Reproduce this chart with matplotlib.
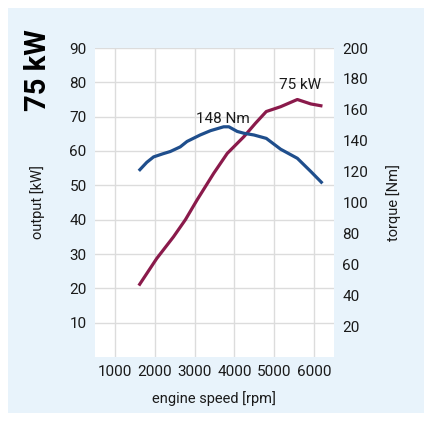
import matplotlib.pyplot as plt
from matplotlib.patches import Rectangle

# engine curves
rpm_torque = [1600, 1800, 1970, 2200, 2390, 2640, 2810, 3140, 3400, 3730, 3860, 4070, 4240, 4490, 4800, 5160, 5580, 5920, 6210]
torque_nm = [120.5, 126, 129.5, 131.5, 133, 136, 139.5, 143.7, 146.5, 149, 149, 146, 144.8, 143.7, 141.5, 134.5, 128.6, 120, 112.4]

rpm_power = [1600, 2050, 2470, 2770, 3060, 3480, 3820, 4240, 4530, 4800, 5160, 5580, 5920, 6210]
power_kw = [20.8, 28.7, 35, 40, 45.7, 53.5, 59.3, 64.2, 68.1, 71.5, 72.9, 75.0, 73.7, 73.1]

x_ticks = [1000, 2000, 3000, 4000, 5000, 6000]
kw_ticks = [10, 20, 30, 40, 50, 60, 70, 80, 90]
nm_ticks = [20, 40, 60, 80, 100, 120, 140, 160, 180, 200]

W, H = 432, 421
plt.rcParams['font.family'] = ['Roboto', 'DejaVu Sans']

fig = plt.figure(figsize=(W / 100, H / 100), dpi=100)
fig.patches.append(Rectangle((8 / W, 8 / H), 416 / W, 405 / H, transform=fig.transFigure,
                             facecolor='#e8f3fb', edgecolor='none', zorder=-10))

ax = fig.add_axes([95 / W, (H - 357) / H, 239 / W, 309 / H])
ax.set_facecolor('white')
ax.set_xlim(500, 6500)
ax.set_ylim(0, 90)
ax.set_xticks(x_ticks)
ax.set_yticks(kw_ticks)
ax.grid(True, color='#dcdcdc', linewidth=1.0)
ax.set_axisbelow(True)
for s in ax.spines.values():
    s.set_visible(False)
ax.tick_params(length=0, labelsize=11, colors='#1a1a1a', pad=6)

ax2 = ax.twinx()
ax2.set_ylim(0, 200)
ax2.set_yticks(nm_ticks)
for s in ax2.spines.values():
    s.set_visible(False)
ax2.tick_params(length=0, labelsize=11, colors='#1a1a1a', pad=6)

ax2.plot(rpm_torque, torque_nm, color='#1f4e8c', linewidth=2.3,
         solid_capstyle='butt', solid_joinstyle='round')
ax.plot(rpm_power, power_kw, color='#8a1a4b', linewidth=2.3,
        solid_capstyle='butt', solid_joinstyle='round', zorder=5)

ax.text(3700, 69.3, '148 Nm', ha='center', va='center', fontsize=11, color='#1a1a1a')
ax.text(5650, 79.2, '75 kW', ha='center', va='center', fontsize=11, color='#1a1a1a')

fig.text(38 / W, 1 - 70 / H, '75 kW', rotation=90, ha='center', va='center',
         fontsize=21, fontweight='bold', color='black')
fig.text(38 / W, 1 - 202 / H, 'output [kW]', rotation=90, ha='center', va='center',
         fontsize=10.5, color='#1a1a1a')
fig.text(394 / W, 1 - 203 / H, 'torque [Nm]', rotation=90, ha='center', va='center',
         fontsize=10.5, color='#1a1a1a')
fig.text(214 / W, 1 - 399 / H, 'engine speed [rpm]', ha='center', va='center',
         fontsize=10.5, color='#1a1a1a')

fig.savefig('out.png', dpi=100, facecolor='white')
